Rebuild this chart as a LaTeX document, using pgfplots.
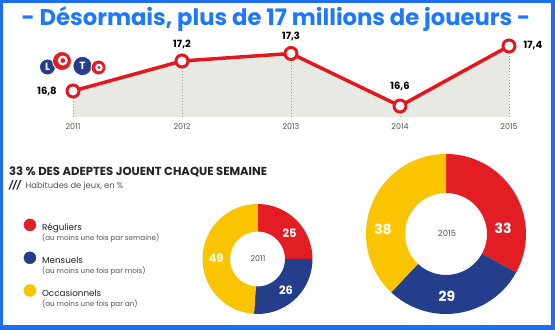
\documentclass[border=0pt]{standalone}
\usepackage{pgfplots}
\pgfplotsset{compat=1.18}
\usepackage{pgfplotstable}
\usepackage{fontspec}
\setmainfont{Poppins}
\definecolor{frameblue}{RGB}{30,110,240}
\definecolor{titleblue}{RGB}{30,120,250}
\definecolor{lred}{RGB}{226,24,30}
\definecolor{dred}{RGB}{226,30,36}
\definecolor{dblue}{RGB}{36,62,140}
\definecolor{dyellow}{RGB}{250,196,0}
\definecolor{areagray}{RGB}{233,233,227}
\definecolor{txtgray}{RGB}{85,85,85}
\definecolor{txtdark}{RGB}{34,34,34}

\pgfplotstableread{
year players lbl dx dy
2011 16.8 16,8 -26 0
2012 17.2 17,2 0 17
2013 17.3 17,3 0 17
2014 16.6 16,6 0 20
2015 17.4 17,4 24 0
}\players

\pgfplotstableread{
cat y2011 y2015
R 25 33
M 26 29
O 49 38
}\habits

\pgfplotstablegetelem{0}{y2011}\of\habits \let\aR\pgfplotsretval
\pgfplotstablegetelem{1}{y2011}\of\habits \let\aM\pgfplotsretval
\pgfplotstablegetelem{2}{y2011}\of\habits \let\aO\pgfplotsretval
\pgfplotstablegetelem{0}{y2015}\of\habits \let\bR\pgfplotsretval
\pgfplotstablegetelem{1}{y2015}\of\habits \let\bM\pgfplotsretval
\pgfplotstablegetelem{2}{y2015}\of\habits \let\bO\pgfplotsretval
\pgfmathsetmacro\aA{90-3.6*\aR}
\pgfmathsetmacro\aB{\aA-3.6*\aM}
\pgfmathsetmacro\aC{\aB-3.6*\aO}
\pgfmathsetmacro\bA{90-3.6*\bR}
\pgfmathsetmacro\bB{\bA-3.6*\bM}
\pgfmathsetmacro\bC{\bB-3.6*\bO}

\newcommand\seg[5]{%
  \fill[#5] (axis cs:{#3*cos(#1)},{#3*sin(#1)}) arc[start angle=#1,end angle=#2,radius=#3 bp]
    -- (axis cs:{#4*cos(#2)},{#4*sin(#2)}) arc[start angle=#2,end angle=#1,radius=#4 bp] -- cycle;}
\newcommand\legtext[2]{\vtop{\baselineskip=10bp\hbox{\fontsize{8.8}{10}\selectfont\color{txtdark}#1}\hbox{\fontsize{7.2}{9}\selectfont\color{txtgray}#2}}}

\begin{document}%
\begin{tikzpicture}
\fill[frameblue] (0,0) rectangle (555bp,330bp);
\fill[white] (3bp,5bp) rectangle (551bp,327bp);

\begin{scope}[overlay]
% title
\node[anchor=base, font=\bfseries\fontsize{22.8}{23}\selectfont, text=titleblue, inner sep=0pt] at (276bp,304bp) {- Désormais, plus de 17 millions de joueurs -};

% loto logo
\begin{scope}[every node/.style={inner sep=0pt, text=white, font=\bfseries\fontsize{10.5}{10.5}\selectfont}]
\fill[dblue, draw=white, line width=0.8bp] (47.5bp,263bp) circle (8bp);
\node at (47.5bp,263bp) {L};
\fill[dblue, draw=white, line width=0.8bp] (82.5bp,264bp) circle (9.6bp);
\node at (82.5bp,264bp) {T};
\fill[dred, draw=white, line width=0.8bp] (62bp,269bp) circle (9.5bp);
\fill[white] (62.8bp,269.5bp) circle (5bp);
\fill[dred] (62.8bp,269.5bp) circle (2.4bp);
\fill[dred, draw=white, line width=0.8bp] (98.5bp,262.5bp) circle (7.5bp);
\fill[white] (99bp,262.5bp) circle (3.8bp);
\fill[dred] (99bp,262.5bp) circle (1.7bp);
\end{scope}

% line chart
\begin{axis}[at={(18.5bp,212.75bp)}, anchor=south west, scale only axis,
  width=534.1bp, height=93.75bp,
  xmin=2010.5, xmax=2015.4, ymin=16.45, ymax=17.7,
  axis line style={draw=none}, ytick=\empty,
  xtick={2011,2012,2013,2014,2015}, xticklabels={2011,2012,2013,2014,2015},
  major tick length=0pt,
  xticklabel style={font=\fontsize{8}{9}\selectfont, text=txtgray, anchor=center, yshift=-9bp},
  clip=true]
\addplot[fill=areagray, draw=none] table[x=year,y=players]{\players}
  -- (axis cs:2015,16.45) -- (axis cs:2011,16.45) -- cycle;
\addplot[ycomb, draw=gray!80, line width=0.8bp, dash pattern=on 1.5bp off 1.5bp, mark=none]
  table[x=year,y=players]{\players};
\addplot[lred, line width=3.5bp, mark=*, mark size=6bp,
  mark options={fill=white, draw=lred, line width=3bp},
  point meta=explicit symbolic, nodes near coords,
  visualization depends on={\thisrow{dx}\as\mydx},
  visualization depends on={\thisrow{dy}\as\mydy},
  every node near coord/.append style={anchor=center, xshift=\mydx bp, yshift=\mydy bp,
    font=\bfseries\fontsize{10}{11}\selectfont, text=black, inner sep=0pt}]
  table[x=year,y=players,meta=lbl]{\players};
\end{axis}

% section title
\node[anchor=base west, inner sep=0pt, font=\bfseries\fontsize{11.65}{12}\selectfont, text=txtdark] at (9bp,154bp) {33 \% DES ADEPTES JOUENT CHAQUE SEMAINE};
\node[anchor=base west, inner sep=0pt, font=\fontsize{8.4}{9}\selectfont, text=txtgray] at (9bp,141.5bp) {{\bfseries\itshape\color{txtdark}///}\hspace{5bp}Habitudes de jeux, en \%};

% donut 2011 + legend
\begin{axis}[at={(257.5bp,71bp)}, anchor=origin, x=1bp, y=1bp,
  xmin=-60, xmax=60, ymin=-60, ymax=60, hide axis, clip=false,
  legend style={draw=none, fill=none, at={(axis cs:-234,40.5)}, anchor=north west,
    inner sep=0pt, row sep=19.5bp, column sep=6bp, nodes={inner sep=0pt}},
  legend cell align=left]
\seg{90}{\aA}{55}{27.5}{dred}
\seg{\aA}{\aB}{55}{27.5}{dblue}
\seg{\aB}{\aC}{55}{27.5}{dyellow}
\node[font=\bfseries\fontsize{11.5}{12}\selectfont, text=white] at (axis cs:32,26) {\aR};
\node[font=\bfseries\fontsize{11.5}{12}\selectfont, text=white] at (axis cs:28.5,-31) {\aM};
\node[font=\bfseries\fontsize{11.5}{12}\selectfont, text=white] at (axis cs:-41.5,1) {\aO};
\node[font=\fontsize{8}{9}\selectfont, text=txtgray] at (axis cs:0.5,0) {2011};
\addlegendimage{legend image code/.code={\fill[dred] (6bp,3bp) circle (6bp);}}
\addlegendentry{\legtext{Réguliers}{(au moins une fois par semaine)}}
\addlegendimage{legend image code/.code={\fill[dblue] (6bp,3bp) circle (6bp);}}
\addlegendentry{\legtext{Mensuels}{(au moins une fois par mois)}}
\addlegendimage{legend image code/.code={\fill[dyellow] (6bp,3bp) circle (6bp);}}
\addlegendentry{\legtext{Occasionnels}{(au moins une fois par an)}}
\end{axis}

% donut 2015
\begin{axis}[at={(446bp,96bp)}, anchor=origin, x=1bp, y=1bp,
  xmin=-85, xmax=85, ymin=-85, ymax=85, hide axis, clip=false]
\seg{90}{\bA}{80}{41}{dred}
\seg{\bA}{\bB}{80}{41}{dblue}
\seg{\bB}{\bC}{80}{41}{dyellow}
\node[font=\bfseries\fontsize{14}{15}\selectfont, text=white] at (axis cs:57,6) {\bR};
\node[font=\bfseries\fontsize{14}{15}\selectfont, text=white] at (axis cs:1,-62) {\bM};
\node[font=\bfseries\fontsize{14}{15}\selectfont, text=white] at (axis cs:-63,5) {\bO};
\node[font=\fontsize{8.5}{9}\selectfont, text=txtgray] at (axis cs:1,1) {2015};
\end{axis}
\end{scope}
\end{tikzpicture}%
\end{document}
